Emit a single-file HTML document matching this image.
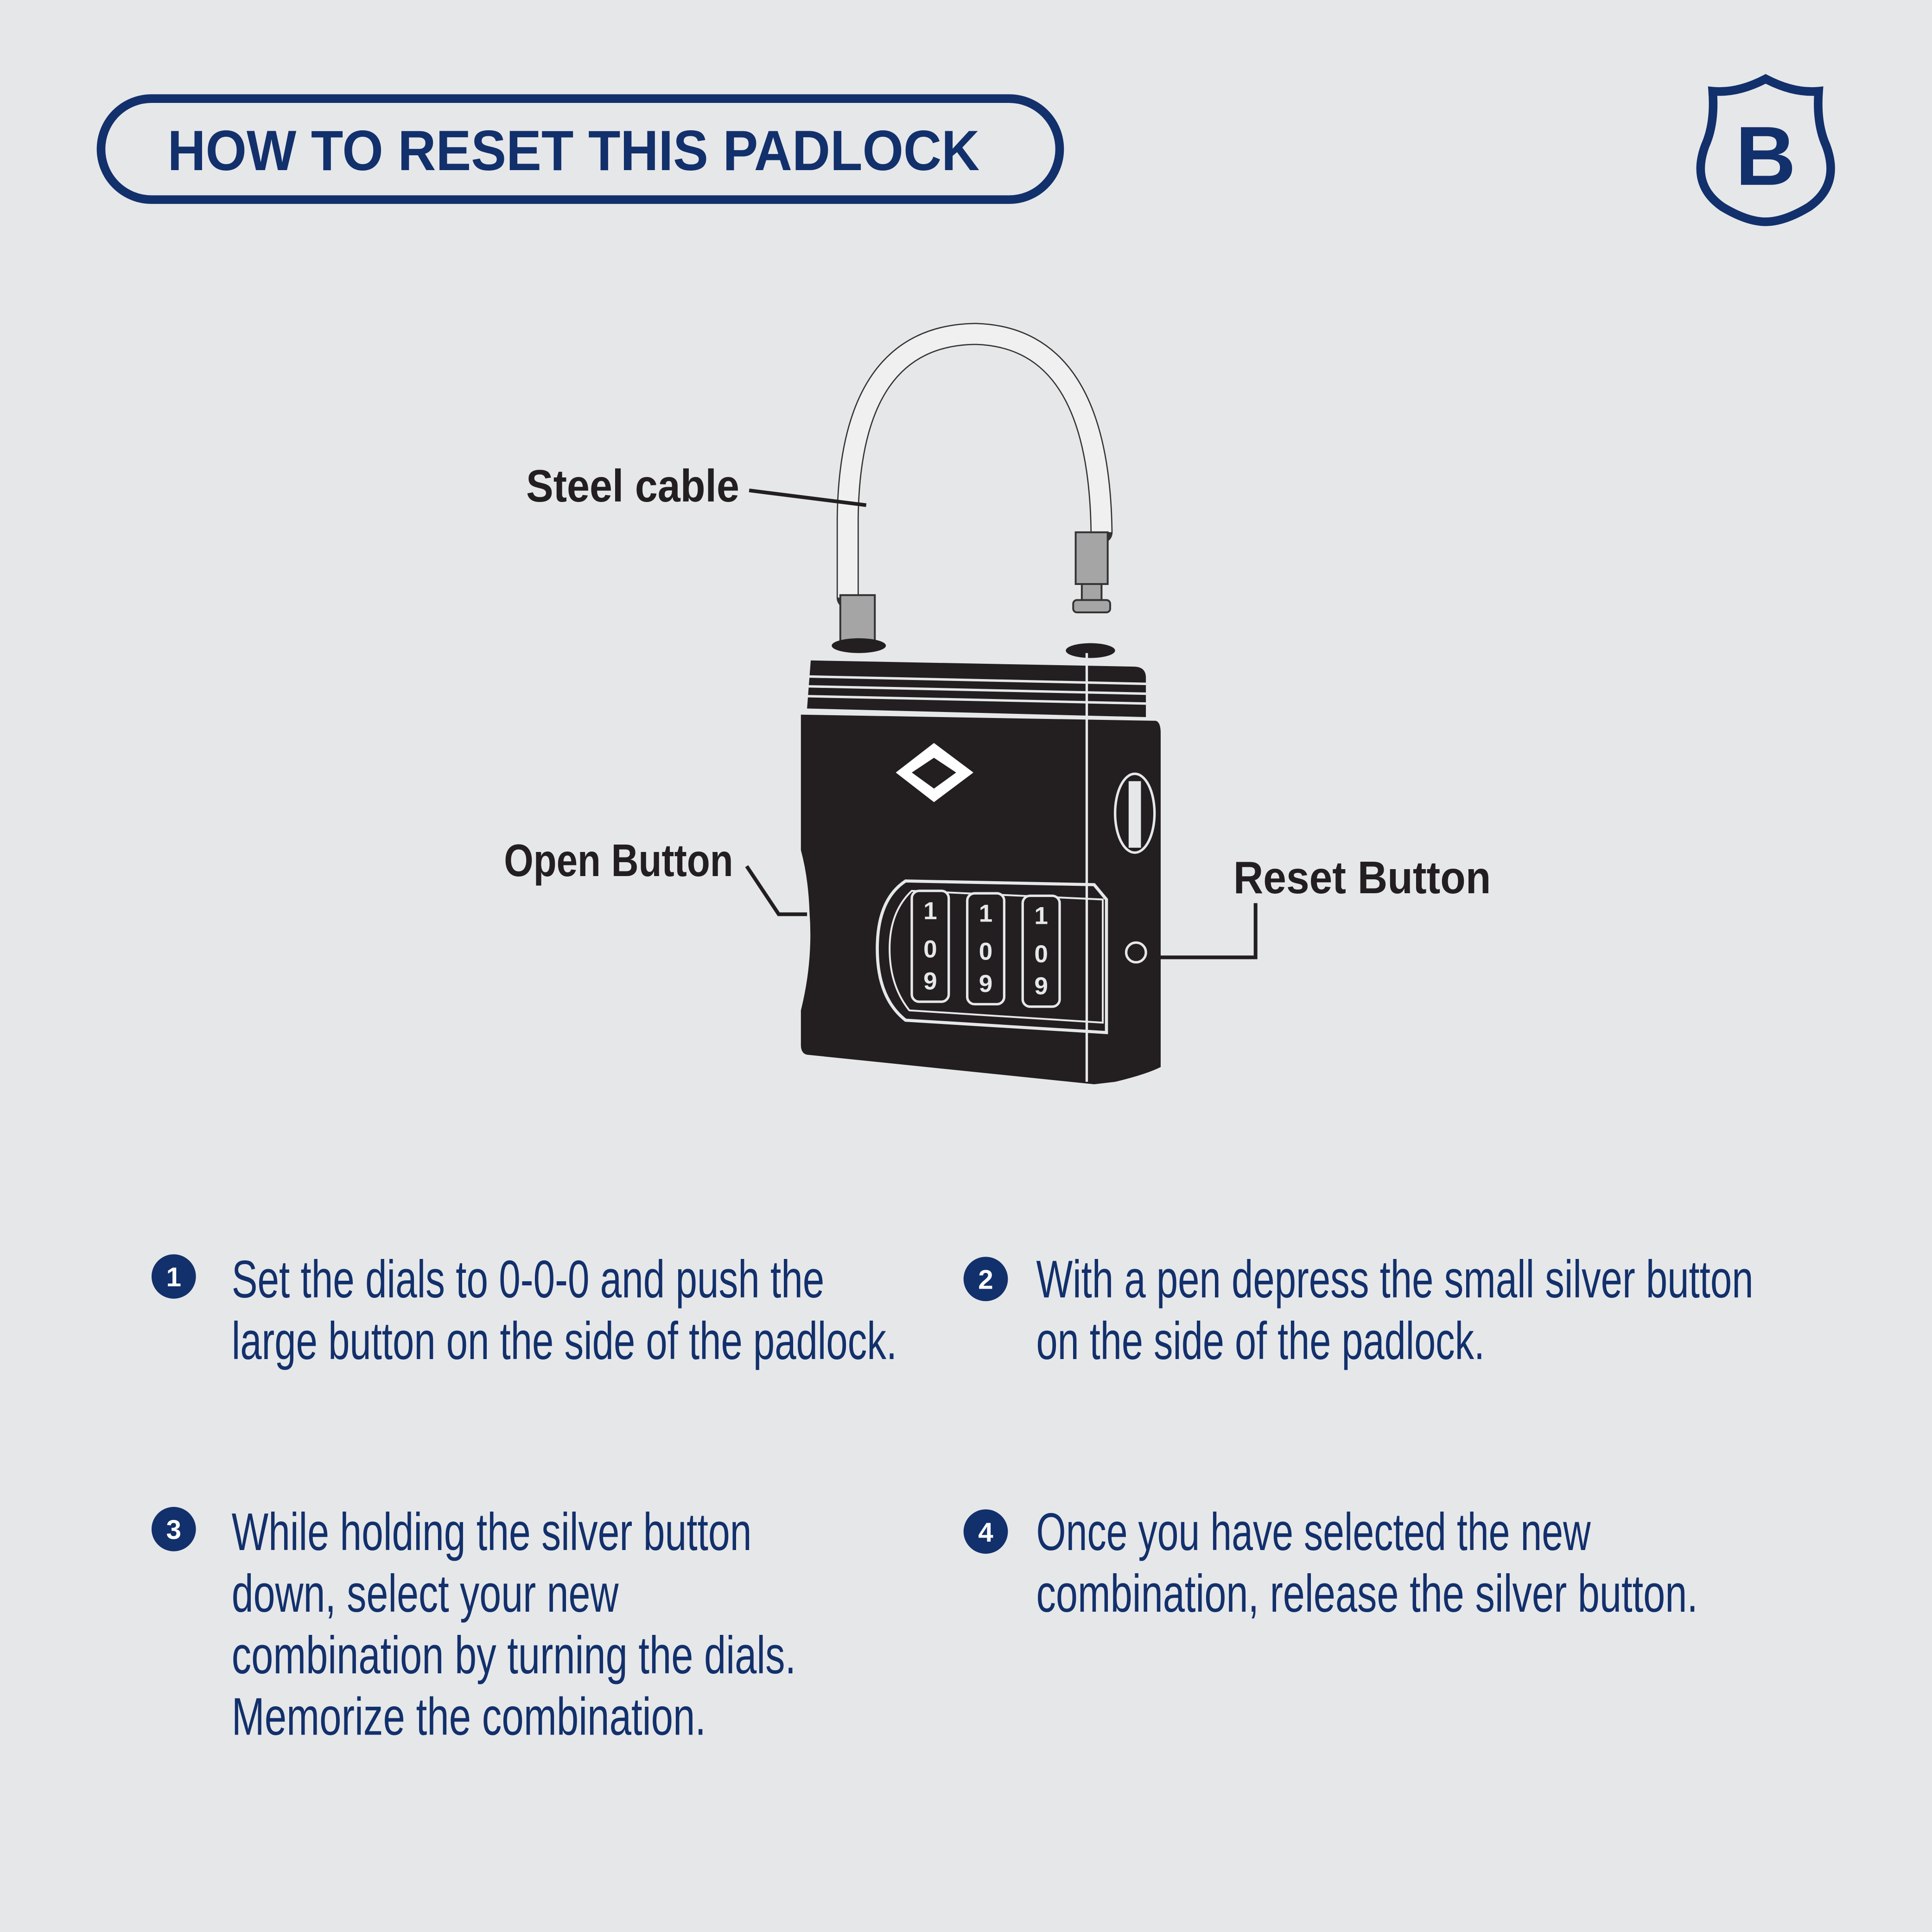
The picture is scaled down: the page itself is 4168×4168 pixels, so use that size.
<!DOCTYPE html>
<html><head><meta charset="utf-8"><style>
html,body{margin:0;padding:0;background:#e6e7e9}
svg{display:block}
.t{font-family:"Liberation Sans Narrow","Liberation Sans",sans-serif;fill:#12306b;font-size:43px}
.l{font-family:"Liberation Sans Narrow","Liberation Sans",sans-serif;fill:#231f20;font-size:37px;font-weight:bold}
.n{font-family:"Liberation Sans",sans-serif;fill:#fff;font-size:22px;font-weight:bold}
</style></head><body>
<svg width="4168" height="4168" viewBox="0 0 1568 1568" xmlns="http://www.w3.org/2000/svg">
<rect width="1568" height="1568" fill="#e6e7e9"/>
<rect x="82" y="80" width="778" height="82" rx="41" fill="none" stroke="#12306b" stroke-width="7"/>
<text x="136" y="138" font-family="Liberation Sans, sans-serif" font-weight="bold" font-size="46" fill="#12306b" textLength="659" lengthAdjust="spacingAndGlyphs">HOW TO RESET THIS PADLOCK</text>
<!-- logo -->
<path d="M1433 64 Q1410 76 1390 74 Q1392 100 1384 118 Q1372 150 1398 168 Q1418 180 1433 180 Q1448 180 1468 168 Q1494 150 1482 118 Q1474 100 1476 74 Q1456 76 1433 64Z" fill="none" stroke="#12306b" stroke-width="7"/>
<text x="1433" y="150" text-anchor="middle" font-family="Liberation Sans, sans-serif" font-weight="bold" font-size="68" fill="#12306b">B</text>
<!-- cable -->
<path d="M688 485 L688 420 Q690 272 792 271 Q892 274 894 432" fill="none" stroke="#333" stroke-width="18" stroke-linecap="round"/>
<path d="M688 485 L688 420 Q690 272 792 271 Q892 274 894 432" fill="none" stroke="#f0f0f0" stroke-width="16"/>
<rect x="682" y="483" width="28" height="38" fill="#a5a5a5" stroke="#333" stroke-width="1.5"/>
<rect x="873" y="432" width="26" height="42" fill="#a5a5a5" stroke="#333" stroke-width="1.5"/>
<rect x="878" y="474" width="16" height="14" fill="#a5a5a5" stroke="#333" stroke-width="1.5"/>
<rect x="871" y="487" width="30" height="10" rx="3" fill="#a5a5a5" stroke="#333" stroke-width="1.5"/>
<!-- body -->
<ellipse cx="697" cy="524" rx="22" ry="6" fill="#231f20"/>
<ellipse cx="885" cy="528" rx="20" ry="6" fill="#231f20"/>
<path d="M658 536 L920 541 Q930 541 930 550 L930 582 L655 575 Z" fill="#231f20"/>
<g stroke="#e6e7e9" stroke-width="2"><line x1="655" y1="549" x2="930" y2="555"/><line x1="655" y1="557" x2="930" y2="563"/><line x1="655" y1="565" x2="930" y2="571"/></g>
<path d="M650 580 L938 585 Q942 586 942 595 L942 866 Q930 872 905 878 L888 880 L655 856 Q650 855 650 848 L650 820 Q660 780 657 740 Q656 712 650 690 Z" fill="#231f20"/>
<line x1="882" y1="530" x2="882" y2="878" stroke="#e6e7e9" stroke-width="2"/>
<path d="M727 627 L758 603 L790 627 L758 651 Z" fill="#fff"/>
<path d="M740 627 L758 615 L776 627 L758 640 Z" fill="#231f20"/>
<ellipse cx="921" cy="660" rx="16" ry="32" fill="#231f20" stroke="#e6e7e9" stroke-width="2"/>
<rect x="916" y="634" width="10" height="54" fill="#e6e7e9"/>
<path d="M735 715 L888 718 L898 730 L898 838 L735 828 Q712 810 712 770 Q712 730 735 715Z" fill="none" stroke="#e6e7e9" stroke-width="2.5"/>
<path d="M740 723 L895 730 L895 830 L738 820 Q722 800 722 770 Q722 740 740 723Z" fill="none" stroke="#e6e7e9" stroke-width="1.5"/>
<g fill="#231f20" stroke="#e6e7e9" stroke-width="2">
<rect x="740" y="723" width="30" height="90" rx="6"/><rect x="785" y="725" width="30" height="90" rx="6"/><rect x="830" y="727" width="30" height="90" rx="6"/>
</g>
<g font-family="Liberation Sans,sans-serif" font-weight="bold" font-size="20" fill="#e6e7e9" text-anchor="middle">
<text x="755" y="746">1</text><text x="755" y="777">0</text><text x="755" y="803">9</text>
<text x="800" y="748">1</text><text x="800" y="779">0</text><text x="800" y="805">9</text>
<text x="845" y="750">1</text><text x="845" y="781">0</text><text x="845" y="807">9</text>
</g>
<circle cx="922" cy="773" r="8" fill="#231f20" stroke="#e6e7e9" stroke-width="2"/>
<!-- labels -->
<text class="l" x="427" y="407" textLength="173" lengthAdjust="spacingAndGlyphs">Steel cable</text>
<line x1="608" y1="398" x2="703" y2="410" stroke="#231f20" stroke-width="3"/>
<text class="l" x="409" y="711" textLength="186" lengthAdjust="spacingAndGlyphs">Open Button</text>
<polyline points="606,703 632,742 655,742" fill="none" stroke="#231f20" stroke-width="3"/>
<text class="l" x="1001" y="725" textLength="209" lengthAdjust="spacingAndGlyphs">Reset  Button</text>
<polyline points="1019,733 1019,777 935,777" fill="none" stroke="#231f20" stroke-width="3"/>
<!-- steps -->
<g fill="#12306b"><circle cx="141" cy="1036" r="18"/><circle cx="800" cy="1038" r="18"/><circle cx="141" cy="1241" r="18"/><circle cx="800" cy="1243" r="18"/></g>
<text class="n" x="141" y="1044" text-anchor="middle">1</text>
<text class="n" x="800" y="1046" text-anchor="middle">2</text>
<text class="n" x="141" y="1249" text-anchor="middle">3</text>
<text class="n" x="800" y="1251" text-anchor="middle">4</text>
<text class="t" x="188" y="1053" textLength="481" lengthAdjust="spacingAndGlyphs">Set the dials to 0-0-0 and push the</text>
<text class="t" x="188" y="1103" textLength="540" lengthAdjust="spacingAndGlyphs">large button on the side of the padlock.</text>
<text class="t" x="841" y="1053" textLength="582" lengthAdjust="spacingAndGlyphs">With a pen depress the small silver button</text>
<text class="t" x="841" y="1103" textLength="364" lengthAdjust="spacingAndGlyphs">on the side of the padlock.</text>
<text class="t" x="188" y="1258" textLength="422" lengthAdjust="spacingAndGlyphs">While holding the silver button</text>
<text class="t" x="188" y="1308" textLength="314" lengthAdjust="spacingAndGlyphs">down, select your new</text>
<text class="t" x="188" y="1358" textLength="458" lengthAdjust="spacingAndGlyphs">combination by turning the dials.</text>
<text class="t" x="188" y="1408" textLength="385" lengthAdjust="spacingAndGlyphs">Memorize the combination.</text>
<text class="t" x="841" y="1258" textLength="450" lengthAdjust="spacingAndGlyphs">Once you have selected the new</text>
<text class="t" x="841" y="1308" textLength="537" lengthAdjust="spacingAndGlyphs">combination, release the silver button.</text>
</svg>
</body></html>
